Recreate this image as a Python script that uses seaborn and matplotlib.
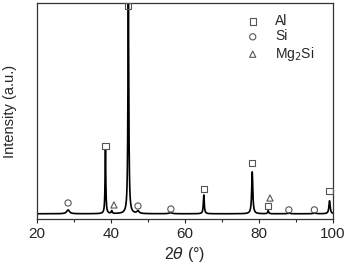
import numpy as np
import pandas as pd
import matplotlib
matplotlib.use('Agg')
import matplotlib.pyplot as plt
import seaborn as sns

# peaks: centre (deg), height, half width
peak_pos = [28.4, 38.5, 40.2, 44.7, 47.3, 56.1, 65.1, 78.2, 82.5, 88.1, 95.0, 99.1]
peak_height = [1.8, 29.5, 1.3, 100.0, 1.2, 0.5, 8.7, 19.4, 1.4, 0.3, 0.3, 6.0]
peak_width = [0.45, 0.12, 0.15, 0.14, 0.35, 0.5, 0.15, 0.18, 0.15, 0.4, 0.4, 0.2]
baseline = 2.4

# phase markers
al_x = [38.5, 44.7, 65.2, 78.2, 82.5, 99.1]
al_y = [33.8, 98.6, 13.9, 25.9, 6.0, 13.0]
si_x = [28.4, 47.3, 56.2, 88.1, 95.0]
si_y = [7.4, 6.0, 4.6, 4.2, 4.2]
mg_x = [40.8, 83.0]
mg_y = [6.5, 9.7]

two_theta = np.arange(20, 100.001, 0.02)
intensity = np.full_like(two_theta, baseline)
for c, h, w in zip(peak_pos, peak_height, peak_width):
    intensity += h / (1 + ((two_theta - c) / w) ** 2)
df = pd.DataFrame({'2theta': two_theta, 'I': intensity})

sns.set_style('ticks')
plt.rcParams['font.family'] = ['Liberation Sans', 'DejaVu Sans']

fig = plt.figure(figsize=(3.46, 2.69), dpi=100)
ax = fig.add_axes([0.107, 0.186, 0.855, 0.803])

sns.lineplot(data=df, x='2theta', y='I', color='black', lw=1.2, ax=ax)

mk = dict(facecolors='none', edgecolors='#555555', s=20, linewidths=0.8, clip_on=False, zorder=3)
ax.scatter(al_x, al_y, marker='s', label='Al', **mk)
ax.scatter(si_x, si_y, marker='o', label='Si', **mk)
ax.scatter(mg_x, mg_y, marker='^', label='Mg$_2$Si', **mk)

ax.set_xlim(20, 100)
ax.set_ylim(0, 100)
ax.set_xticks([20, 40, 60, 80, 100])
ax.set_xticks([30, 50, 70, 90], minor=True)
ax.set_yticks([])
ax.tick_params(axis='x', which='major', length=3, width=0.8, labelsize=11, pad=3)
ax.tick_params(axis='x', which='minor', length=2.5, width=0.8)
for s in ax.spines.values():
    s.set_color('#333333')
    s.set_linewidth(0.9)

ax.set_xlabel(r'2$\theta$ (°)', fontsize=11.5, labelpad=3)
ax.set_ylabel('Intensity (a.u.)', fontsize=10.5)
ax.yaxis.set_label_coords(-0.068, 0.5)

ax.legend(loc='upper right', frameon=False, fontsize=10, handletextpad=0.6,
          borderaxespad=0.4, bbox_to_anchor=(0.975, 1.0), labelspacing=0.1)

fig.savefig('out.png', dpi=100)
